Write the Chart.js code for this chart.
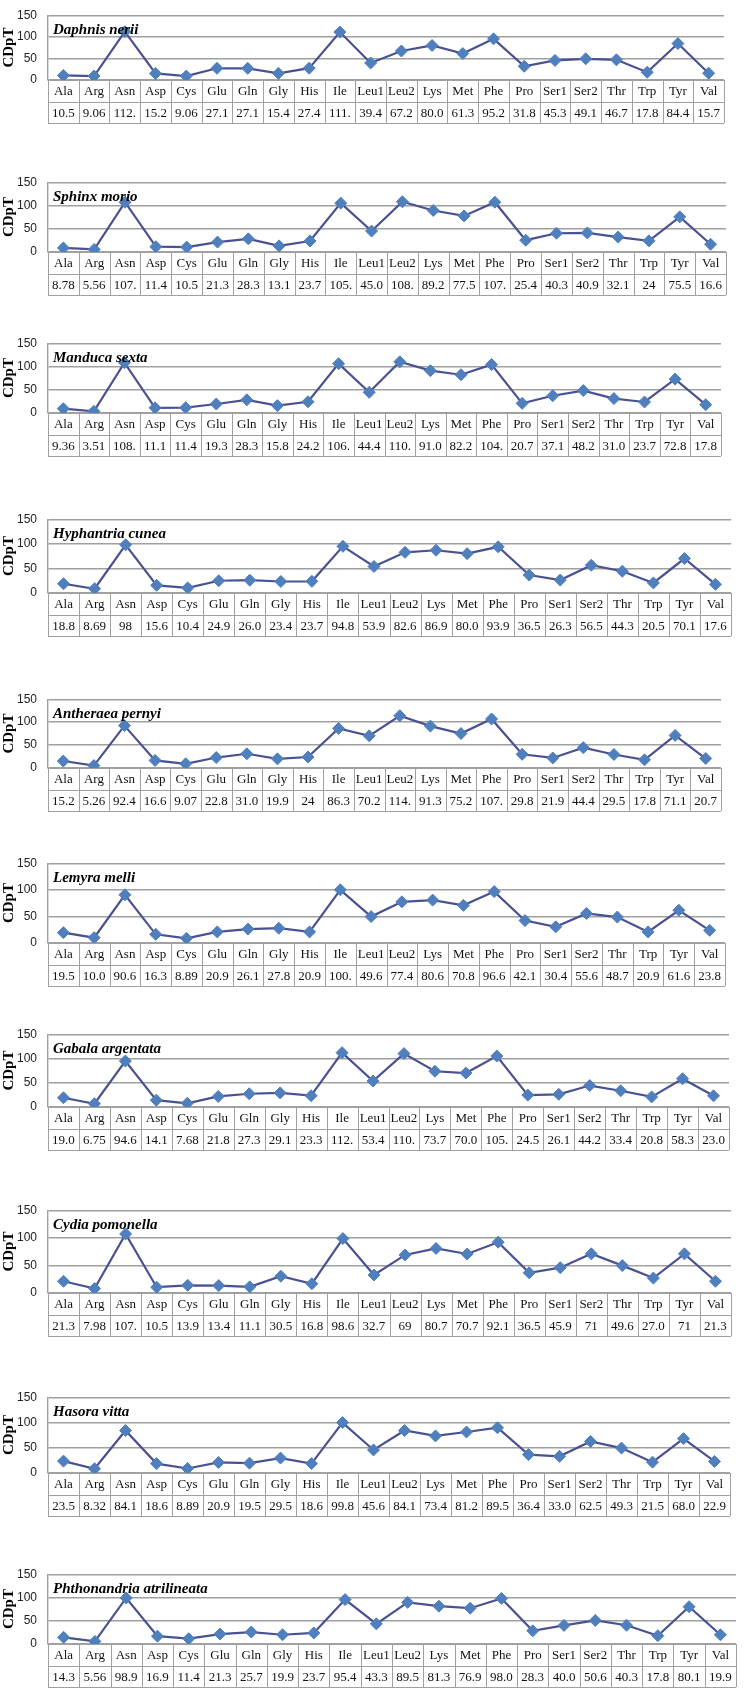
<!DOCTYPE html>
<html><head><meta charset="utf-8">
<script src="https://cdn.jsdelivr.net/npm/chart.js@4.4.1/dist/chart.umd.min.js"></script>
<style>
html,body{margin:0;padding:0;background:#fff;}
body{width:744px;height:1688px;position:relative;overflow:hidden;}
canvas{position:absolute;left:0;}
</style></head><body>
<script>
// ---------- data ----------
const aminoAcids = ["Ala","Arg","Asn","Asp","Cys","Glu","Gln","Gly","His","Ile","Leu1","Leu2","Lys","Met","Phe","Pro","Ser1","Ser2","Thr","Trp","Tyr","Val"];
const speciesNames = ["Daphnis nerii","Sphinx morio","Manduca sexta","Hyphantria cunea","Antheraea pernyi","Lemyra melli","Gabala argentata","Cydia pomonella","Hasora vitta","Phthonandria atrilineata"];
const daphnisNerii     = ["10.5","9.06","112.","15.2","9.06","27.1","27.1","15.4","27.4","111.","39.4","67.2","80.0","61.3","95.2","31.8","45.3","49.1","46.7","17.8","84.4","15.7"];
const sphinxMorio      = ["8.78","5.56","107.","11.4","10.5","21.3","28.3","13.1","23.7","105.","45.0","108.","89.2","77.5","107.","25.4","40.3","40.9","32.1","24","75.5","16.6"];
const manducaSexta     = ["9.36","3.51","108.","11.1","11.4","19.3","28.3","15.8","24.2","106.","44.4","110.","91.0","82.2","104.","20.7","37.1","48.2","31.0","23.7","72.8","17.8"];
const hyphantriaCunea  = ["18.8","8.69","98","15.6","10.4","24.9","26.0","23.4","23.7","94.8","53.9","82.6","86.9","80.0","93.9","36.5","26.3","56.5","44.3","20.5","70.1","17.6"];
const antheraeaPernyi  = ["15.2","5.26","92.4","16.6","9.07","22.8","31.0","19.9","24","86.3","70.2","114.","91.3","75.2","107.","29.8","21.9","44.4","29.5","17.8","71.1","20.7"];
const lemyraMelli      = ["19.5","10.0","90.6","16.3","8.89","20.9","26.1","27.8","20.9","100.","49.6","77.4","80.6","70.8","96.6","42.1","30.4","55.6","48.7","20.9","61.6","23.8"];
const gabalaArgentata  = ["19.0","6.75","94.6","14.1","7.68","21.8","27.3","29.1","23.3","112.","53.4","110.","73.7","70.0","105.","24.5","26.1","44.2","33.4","20.8","58.3","23.0"];
const cydiaPomonella   = ["21.3","7.98","107.","10.5","13.9","13.4","11.1","30.5","16.8","98.6","32.7","69","80.7","70.7","92.1","36.5","45.9","71","49.6","27.0","71","21.3"];
const hasoraVitta      = ["23.5","8.32","84.1","18.6","8.89","20.9","19.5","29.5","18.6","99.8","45.6","84.1","73.4","81.2","89.5","36.4","33.0","62.5","49.3","21.5","68.0","22.9"];
const phthonandriaAtr  = ["14.3","5.56","98.9","16.9","11.4","21.3","25.7","19.9","23.7","95.4","43.3","89.5","81.3","76.9","98.0","28.3","40.0","50.6","40.3","17.8","80.1","19.9"];
const seriesTable = [daphnisNerii,sphinxMorio,manducaSexta,hyphantriaCunea,antheraeaPernyi,lemyraMelli,gabalaArgentata,cydiaPomonella,hasoraVitta,phthonandriaAtr];
const yTicks = [0,50,100,150];
const yAxisTitle = "CDpT";

// ---------- layout (pixels) ----------
const plotTop   = [5,172,333,509,689,853,1024,1200,1387,1564];
const plotZero  = [80,252,413,593,768,943,1107,1293,1473,1644];
const plotRight = [730,732,727,737,727,731,735,737,736,742];
const PAD_TOP = 8;
const TABLE_H = 43;
const AXIS_W = 48;
const GRID = '#a0a0a0';

const tablePlugin = {
  id: 'dataTable',
  afterDraw(chart, args, opts) {
    const ctx = chart.ctx;
    const {left, right, bottom, top} = chart.chartArea;
    const labels = chart.data.labels;
    const cells = opts.cells;
    const n = labels.length;
    const w = (right - left) / n;
    const rowH = TABLE_H / 2;
    ctx.save();
    ctx.strokeStyle = GRID;
    ctx.lineWidth = 1;
    ctx.beginPath();
    for (let r = 0; r <= 2; r++) {
      const y = Math.round(bottom + r * rowH) + 0.5;
      ctx.moveTo(left, y); ctx.lineTo(right, y);
    }
    for (let i = 0; i <= n; i++) {
      const x = Math.round(left + i * w) + 0.5;
      ctx.moveTo(x, bottom); ctx.lineTo(x, bottom + TABLE_H);
    }
    ctx.stroke();
    ctx.fillStyle = '#111';
    ctx.font = '13px "Liberation Serif", "Times New Roman", serif';
    ctx.textAlign = 'center';
    ctx.textBaseline = 'middle';
    for (let i = 0; i < n; i++) {
      const cx = left + (i + 0.5) * w;
      ctx.fillText(labels[i], cx, bottom + rowH / 2 + 1);
      ctx.fillText(cells[i], cx, bottom + rowH * 1.5 + 1);
    }
    // species name
    ctx.textAlign = 'left';
    ctx.textBaseline = 'alphabetic';
    ctx.font = 'italic bold 15px "Liberation Serif", "Times New Roman", serif';
    ctx.fillStyle = '#000';
    ctx.fillText(opts.name, left + 5, top + 19);
    ctx.restore();
  }
};

seriesTable.forEach((cells, k) => {
  const cv = document.createElement('canvas');
  const h = PAD_TOP + (plotZero[k] - plotTop[k]) + TABLE_H + 3;
  const wdt = plotRight[k] + 1;
  cv.width = wdt; cv.height = h;
  cv.style.width = wdt + 'px'; cv.style.height = h + 'px';
  cv.style.top = (plotTop[k] - PAD_TOP) + 'px';
  document.body.appendChild(cv);
  const values = cells.map(s => parseFloat(s));
  new Chart(cv, {
    type: 'line',
    data: {
      labels: aminoAcids,
      datasets: [{
        data: values,
        borderColor: '#4a5192',
        borderWidth: 2.2,
        tension: 0,
        pointStyle: 'rectRot',
        pointRadius: 6,
        pointBackgroundColor: '#4f7fbd',
        pointBorderColor: '#4f7fbd',
        pointBorderWidth: 1
      }]
    },
    options: {
      responsive: false,
      animation: false,
      devicePixelRatio: 1,
      layout: {padding: {top: PAD_TOP, bottom: TABLE_H + 3, left: 0, right: 1}},
      plugins: {
        legend: {display: false},
        tooltip: {enabled: false},
        dataTable: {cells: cells, name: speciesNames[k]}
      },
      scales: {
        x: {type: 'category', offset: true, display: false},
        y: {
          min: 0, max: 150,
          afterBuildTicks(scale) { scale.ticks = yTicks.map(v => ({value: v})); },
          afterFit(scale) { scale.width = AXIS_W; },
          ticks: {
            color: '#222',
            padding: 11,
            font: {family: '"Liberation Sans", Arial, sans-serif', size: 12}
          },
          grid: {color: GRID, lineWidth: 1.4, drawTicks: false},
          border: {display: true, color: GRID, width: 1.4},
          title: {
            display: true, text: yAxisTitle, color: '#000',
            padding: {top: 0, bottom: 0},
            font: {family: '"Liberation Serif", "Times New Roman", serif', size: 15, weight: 'bold'}
          }
        }
      }
    },
    plugins: [tablePlugin]
  });
});
</script>
</body></html>
